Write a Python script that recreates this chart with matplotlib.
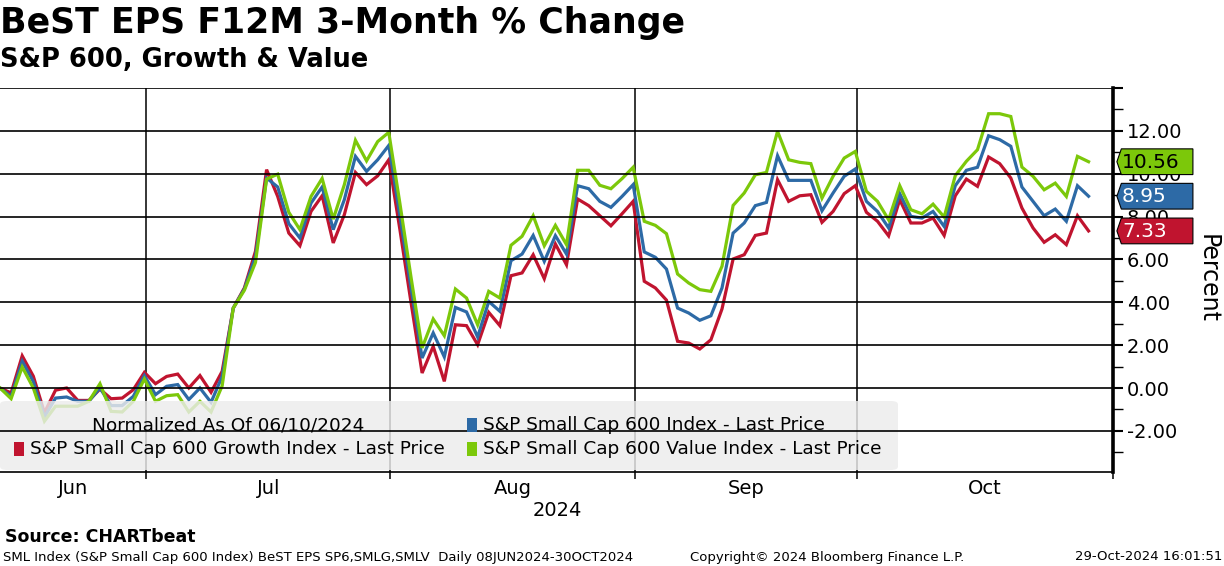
import matplotlib
matplotlib.use("Agg")
import matplotlib.pyplot as plt
from matplotlib.patches import Polygon, FancyBboxPatch, Rectangle
import pandas as pd

### Data (3-month % change, one value per trading day)
holidays = ["2024-06-19", "2024-07-04", "2024-09-02"]
dates = [d for d in pd.bdate_range("2024-06-10", "2024-10-29") if d.strftime("%Y-%m-%d") not in holidays]

growth = [0.0, -0.23, 1.5, 0.55, -1.15, -0.1, 0.0, -0.58, -0.58, -0.05,
          -0.5, -0.47, -0.08, 0.73, 0.2, 0.54, 0.65, 0.0, 0.58, -0.2,
          0.78, 3.73, 4.67, 6.38, 10.19, 8.94, 7.23, 6.64, 8.24, 8.97,
          6.77, 8.09, 10.06, 9.49, 9.9, 10.65, 7.4, 4.0, 0.7, 1.94,
          0.31, 2.95, 2.91, 2.02, 3.53, 2.91, 5.24, 5.37, 6.22, 5.1,
          6.72, 5.75, 8.82, 8.51, 8.04, 7.57, 8.13, 8.71, 4.98, 4.67,
          4.1, 2.18, 2.1, 1.82, 2.25, 3.69, 6.02, 6.22, 7.12, 7.23,
          9.72, 8.71, 8.97, 9.02, 7.73, 8.24, 9.07, 9.44, 8.2, 7.78,
          7.1, 8.79, 7.7, 7.7, 7.93, 7.12, 8.97, 9.75, 9.41, 10.78,
          10.47, 9.8, 8.4, 7.47, 6.8, 7.15, 6.69, 8.04, 7.33]
index600 = [0.0, -0.39, 1.25, 0.3, -1.35, -0.47, -0.42, -0.62, -0.62, 0.0,
            -0.82, -0.82, -0.39, 0.58, -0.31, 0.08, 0.16, -0.54, 0.0, -0.67,
            0.54, 3.73, 4.62, 6.15, 9.8, 9.38, 7.67, 7.0, 8.63, 9.38,
            7.39, 8.79, 10.81, 10.11, 10.65, 11.32, 8.04, 4.68, 1.4, 2.57,
            1.45, 3.76, 3.55, 2.38, 4.04, 3.58, 5.94, 6.25, 7.12, 5.91,
            7.11, 6.25, 9.44, 9.3, 8.71, 8.43, 8.94, 9.49, 6.35, 6.1,
            5.55, 3.73, 3.5, 3.16, 3.37, 4.67, 7.23, 7.7, 8.51, 8.66,
            10.84, 9.69, 9.69, 9.69, 8.27, 9.1, 9.88, 10.22, 8.71, 8.24,
            7.47, 9.07, 8.01, 7.93, 8.24, 7.54, 9.44, 10.16, 10.3, 11.77,
            11.59, 11.28, 9.38, 8.71, 8.04, 8.35, 7.78, 9.44, 8.95]
value = [0.0, -0.5, 0.98, 0.0, -1.55, -0.85, -0.85, -0.85, -0.62, 0.2,
         -1.09, -1.12, -0.62, 0.42, -0.62, -0.36, -0.31, -1.12, -0.62, -1.12,
         0.1, 3.73, 4.56, 5.86, 9.75, 9.98, 8.2, 7.39, 8.94, 9.78,
         7.88, 9.49, 11.56, 10.6, 11.5, 11.93, 8.62, 5.18, 1.87, 3.22,
         2.44, 4.62, 4.2, 2.95, 4.51, 4.2, 6.66, 7.08, 8.04, 6.64,
         7.59, 6.69, 10.16, 10.16, 9.46, 9.3, 9.77, 10.3, 7.78, 7.59,
         7.2, 5.32, 4.9, 4.59, 4.51, 5.68, 8.52, 9.1, 9.95, 10.06,
         11.98, 10.65, 10.53, 10.47, 8.86, 9.88, 10.73, 11.04, 9.18, 8.71,
         7.85, 9.44, 8.32, 8.13, 8.58, 7.98, 9.91, 10.58, 11.12, 12.8,
         12.8, 12.67, 10.31, 9.88, 9.25, 9.56, 8.94, 10.81, 10.56]

RED = "#c0142f"
BLUE = "#2d6aa6"
GREEN = "#7cc80a"
W, H = 1224, 566

def fx(px):
    return px / W

def fy(py):
    return 1 - py / H

fig = plt.figure(figsize=(12.24, 5.66), dpi=100)
ax = fig.add_axes([0, fy(472), fx(1113), fy(88) - fy(472)])

x = list(range(len(dates)))
ax.plot(x, growth, color=RED, lw=2.3, zorder=2, solid_joinstyle="miter")
ax.plot(x, index600, color=BLUE, lw=2.3, zorder=2, solid_joinstyle="miter")
ax.plot(x, value, color=GREEN, lw=2.3, zorder=2, solid_joinstyle="miter")

xmax = 100.2
ax.set_xlim(0, xmax)
ax.set_ylim(-3.92, 14)

### Gridlines
for g in range(-2, 15, 2):
    ax.axhline(g, color="black", lw=1.2, zorder=3.5)

# month boundaries: just after last trading day of each month
bounds = [i + 0.15 for i in range(len(dates) - 1) if dates[i].month != dates[i + 1].month]
for b in bounds:
    ax.axvline(b, color="black", lw=1.1, zorder=1)

edges = [0] + bounds + [xmax]
centers = [(edges[k] + edges[k + 1]) / 2 for k in range(len(edges) - 1)]
month_names = ["Jun", "Jul", "Aug", "Sep", "Oct"]
ax.set_xticks(centers)
ax.set_xticklabels(month_names, fontsize=14)
ax.set_xticks(bounds + [xmax], minor=True)
ax.tick_params(axis="x", which="major", length=0, pad=5)
ax.tick_params(axis="x", which="minor", length=5, width=1.1, direction="out")

### Right axis
ax.yaxis.tick_right()
ax.set_yticks(range(-2, 15, 2))
ax.set_yticklabels([f"{v:.2f}" if v < 14 else "" for v in range(-2, 15, 2)], fontsize=14)
ax.set_yticks(range(-3, 15, 2), minor=True)
ax.tick_params(axis="y", which="major", length=7, width=1.5, direction="out", pad=3)
ax.tick_params(axis="y", which="minor", length=7, width=1.0, direction="out")
for s in ["top", "left"]:
    ax.spines[s].set_visible(False)
ax.spines["right"].set_linewidth(2.6)
ax.spines["bottom"].set_linewidth(1.2)

fig.text(fx(1208), fy(279), "Percent", fontsize=17, rotation=270, ha="center", va="center")
fig.text(fx(557), fy(511), "2024", fontsize=14, ha="center", va="center")

### Last value tags
tform = ax.get_yaxis_transform()
for val, col, tcol in [(value[-1], GREEN, "black"), (index600[-1], BLUE, "white"), (growth[-1], RED, "white")]:
    h = 0.6
    x0, x1, x2 = 1.0035, 1.0075, 1.0718
    poly = Polygon([(x0, val), (x1, val + h), (x2, val + h), (x2, val - h), (x1, val - h)],
                   closed=True, transform=tform, facecolor=col, edgecolor="black", lw=0.8,
                   clip_on=False, zorder=6)
    ax.add_patch(poly)
    ax.text(x1 + 0.0005, val - 0.02, f"{val:.2f}", transform=tform, ha="left", va="center",
            fontsize=14.5, color=tcol, zorder=7, clip_on=False)

### Legend box
box = FancyBboxPatch((fx(0), fy(470)), fx(898), fy(401) - fy(470),
                     boxstyle="round,pad=0,rounding_size=0.006", transform=fig.transFigure,
                     facecolor="#ececec", edgecolor="none", alpha=0.82, zorder=3)
ax.add_artist(box)
box.set_clip_on(False)
lfs = 13.3
fig.text(fx(92), fy(425), "Normalized As Of 06/10/2024", fontsize=lfs, va="center", zorder=5)
for px, py, col, lab in [(467, 425, BLUE, "S&P Small Cap 600 Index - Last Price"),
                         (14, 449, RED, "S&P Small Cap 600 Growth Index - Last Price"),
                         (467, 449, GREEN, "S&P Small Cap 600 Value Index - Last Price")]:
    fig.patches.append(Rectangle((fx(px), fy(py + 7)), fx(10), fy(py - 7) - fy(py + 7),
                                 transform=fig.transFigure, facecolor=col, edgecolor="none", zorder=5))
    fig.text(fx(px + 16), fy(py), lab, fontsize=lfs, va="center", zorder=5)

### Titles and footer
fig.text(fx(0), fy(23), "BeST EPS F12M 3-Month % Change", fontsize=25, fontweight="bold", va="center")
fig.text(fx(0), fy(60), "S&P 600, Growth & Value", fontsize=18.5, fontweight="bold", va="center")
fig.text(fx(5), fy(537), "Source: CHARTbeat", fontsize=12.5, fontweight="bold", va="center")
narrow = ["Liberation Sans Narrow", "DejaVu Sans"]
fig.text(fx(3), fy(557), "SML Index (S&P Small Cap 600 Index) BeST EPS SP6,SMLG,SMLV  Daily 08JUN2024-30OCT2024",
         fontsize=9.5, va="center", family=narrow)
fig.text(fx(827), fy(557), "Copyright\u00a9 2024 Bloomberg Finance L.P.", fontsize=9.5, va="center",
         ha="center", family=narrow)
fig.text(fx(1222), fy(557), "29-Oct-2024 16:01:51", fontsize=9.5, va="center", ha="right", family=narrow)

fig.savefig("out.png", dpi=100)
